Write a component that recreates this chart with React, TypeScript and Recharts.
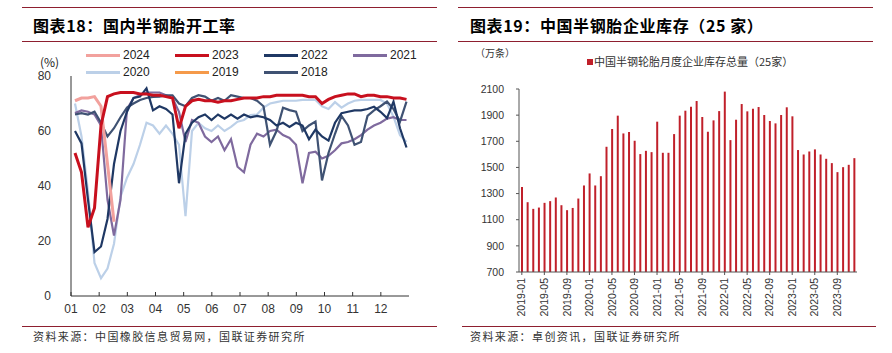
import React from 'react';
import { LineChart, Line, XAxis, YAxis, BarChart, Bar } from 'recharts';

// ---------- Left chart: 国内半钢胎开工率 (weekly, %) ----------
const monthTicks = ['01', '02', '03', '04', '05', '06', '07', '08', '09', '10', '11', '12'];
const yTicksLeft = [0, 20, 40, 60, 80];
const FIRST_WEEK_MONTH = 0.142;
const WEEKS_PER_YEAR = 52;

const s2024 = [71, 72, 72, 72.5, 69, 48, 27];
const s2023 = [
  52, 45, 25, 32, 62, 72.5, 73.5, 74, 74, 74,
  73.5, 73.5, 73, 73, 72.5, 72, 61, 69, 71, 71.5,
  71, 71, 70.5, 71, 71, 71.5, 72, 72, 72, 72.5,
  72.5, 73, 73, 73, 73, 73, 72.5, 72.5, 70, 71.5,
  72.5, 73, 73.5, 73.5, 72.5, 73, 73, 72.5, 72.5, 72,
  72, 71.5,
];
const s2022 = [
  60, 55.5, 35, 16, 18, 28, 48, 60, 67, 72,
  72.5, 75.5, 67.5, 69, 68, 66, 41, 59, 63, 65,
  66, 64, 66, 64.5, 66, 64.5, 66, 65, 65.5, 65,
  64, 62, 63, 61.5, 63, 62, 57, 60.5, 58, 56.5,
  63, 66.5, 67, 67.5, 67.5, 68, 68.8, 67, 64.7, 70.7,
  61, 54,
];
const s2021 = [
  66.5, 67.5, 67, 66, 62, 35, 22, 35, 68, 72,
  73, 74, 74, 74, 73, 72, 67, 56, 64, 63,
  58, 56, 58, 53, 57, 47, 45, 55, 59, 58,
  60, 60.5, 58.5, 57.5, 55, 41, 52, 52.5, 50, 51,
  53, 55.5, 56, 57, 58.5, 60.5, 62, 63, 64.5, 65,
  64, 64,
];
const s2020 = [
  70, 58, 38, 12, 6.5, 10, 19, 36, 43, 48,
  55, 63, 62, 59, 62, 59, 55, 29, 60, 63,
  61, 60, 62, 60, 61.5, 63.4, 64, 65.8, 66, 68.5,
  70, 70.5, 71, 71, 71, 71.3, 71.3, 71.3, 69, 68,
  70.5, 68.5, 70, 71, 71.3, 71.3, 71.3, 71.3, 70, 65.2,
  58.5, 56,
];
const s2019: number[] = [];
const s2018 = [
  66, 66.5, 66, 67, 63, 58, 61, 65, 68.5, 70,
  71.3, 72, 72.4, 72.5, 73, 73, 70, 69, 72, 73,
  72.5, 71, 72, 71, 73, 72.5, 72, 72, 71, 69,
  55, 60, 68.5, 67.6, 67, 60, 62, 63.4, 42, 52,
  59, 65.5, 62, 55, 56, 65.5, 67.5, 69, 70.7, 68,
  63.4, 70.7,
];

const leftSeries = [
  { key: 'y2024', name: '2024', color: '#F2A19D', width: 3, values: s2024 },
  { key: 'y2023', name: '2023', color: '#C8101E', width: 3, values: s2023 },
  { key: 'y2022', name: '2022', color: '#1F3864', width: 2.2, values: s2022 },
  { key: 'y2021', name: '2021', color: '#7F6A9E', width: 2.2, values: s2021 },
  { key: 'y2020', name: '2020', color: '#BCD0E8', width: 2.2, values: s2020 },
  { key: 'y2019', name: '2019', color: '#F59A4A', width: 2.2, values: s2019 },
  { key: 'y2018', name: '2018', color: '#3F5273', width: 2.2, values: s2018 },
];
const drawOrder = ['y2020', 'y2019', 'y2021', 'y2018', 'y2022', 'y2024', 'y2023'];

const leftData = Array.from({ length: WEEKS_PER_YEAR }, (_, i) => {
  const row: Record<string, number | null> = { x: FIRST_WEEK_MONTH + (i * 12) / WEEKS_PER_YEAR };
  leftSeries.forEach((s) => {
    row[s.key] = i < s.values.length ? s.values[i] : null;
  });
  return row;
});

// ---------- Right chart: 中国半钢胎企业库存 (monthly, 万条) ----------
const inventoryMonths = [
  '2019-01', '2019-02', '2019-03', '2019-04', '2019-05', '2019-06', '2019-07', '2019-08', '2019-09', '2019-10', '2019-11', '2019-12',
  '2020-01', '2020-02', '2020-03', '2020-04', '2020-05', '2020-06', '2020-07', '2020-08', '2020-09', '2020-10', '2020-11', '2020-12',
  '2021-01', '2021-02', '2021-03', '2021-04', '2021-05', '2021-06', '2021-07', '2021-08', '2021-09', '2021-10', '2021-11', '2021-12',
  '2022-01', '2022-02', '2022-03', '2022-04', '2022-05', '2022-06', '2022-07', '2022-08', '2022-09', '2022-10', '2022-11', '2022-12',
  '2023-01', '2023-02', '2023-03', '2023-04', '2023-05', '2023-06', '2023-07', '2023-08', '2023-09', '2023-10', '2023-11', '2023-12',
];
const inventoryValues = [
  1350, 1234, 1183, 1193, 1229, 1242, 1270, 1211, 1173, 1190, 1262, 1362,
  1454, 1362, 1433, 1658, 1794, 1896, 1760, 1771, 1704, 1602, 1627, 1617,
  1850, 1612, 1612, 1755, 1896, 1934, 1965, 2008, 1886, 1773, 1860, 1931,
  2080, 1709, 1865, 1985, 1929, 1949, 1962, 1901, 1855, 1837, 1901, 1960,
  1891, 1633, 1599, 1622, 1638, 1599, 1566, 1533, 1464, 1502, 1520, 1571,
];
const yTicksRight = [700, 900, 1100, 1300, 1500, 1700, 1900, 2100];
const inventoryName = '中国半钢轮胎月度企业库存总量（25家）';

const rightData = inventoryMonths.map((m, i) => ({ month: m, value: inventoryValues[i] }));

const RULE = '#8E1F2F';
const LATIN = '"Liberation Sans", Arial, sans-serif';
const CJK = '"Noto Sans CJK SC", "Liberation Sans", sans-serif';

const RotatedTick = (props: any) => {
  const { x, y, payload } = props;
  return (
    <text
      x={x}
      y={y}
      transform={`rotate(-90, ${x}, ${y})`}
      textAnchor="end"
      dy="0.35em"
      fontSize={10.5}
      fontFamily={LATIN}
      fill="#333"
    >
      {payload.value}
    </text>
  );
};

const Rule = ({ x, y, w }: { x: number; y: number; w: number }) => (
  <div style={{ position: 'absolute', left: x, top: y, width: w, height: 1, background: RULE }} />
);

const Txt = ({ x, y, size, children, bold, family, spacing, color }: any) => (
  <div
    style={{
      position: 'absolute',
      left: x,
      top: y,
      fontSize: size,
      fontWeight: bold ? 700 : 400,
      fontFamily: family || CJK,
      letterSpacing: spacing || 0,
      color: color || '#000',
      whiteSpace: 'nowrap',
      lineHeight: 1,
    }}
  >
    {children}
  </div>
);

export default function App() {
  const legendCols = [86, 175, 264, 353];
  const legendRows = [55, 72];
  return (
    <div
      style={{
        position: 'absolute',
        left: 0,
        top: 0,
        width: 892,
        height: 353,
        background: '#fff',
        overflow: 'hidden',
        fontFamily: LATIN,
      }}
    >
      {/* Left panel frame */}
      <Rule x={22} y={7} w={415} />
      <Txt x={33} y={17} size={16} bold spacing={0.6}>图表18：国内半钢胎开工率</Txt>
      <Rule x={22} y={41} w={415} />
      <Txt x={40} y={56} size={12} family={CJK} color="#222">(%)</Txt>

      {leftSeries.map((s, idx) => {
        const cx = legendCols[idx % 4];
        const cy = legendRows[Math.floor(idx / 4)];
        return (
          <div key={s.key} style={{ position: 'absolute', left: cx, top: cy - 8, height: 16, display: 'flex', alignItems: 'center' }}>
            <div style={{ width: 34, height: 3, background: s.color }} />
            <span style={{ marginLeft: 3, fontSize: 12, fontFamily: LATIN, color: '#222' }}>{s.name}</span>
          </div>
        );
      })}

      <div style={{ position: 'absolute', left: 0, top: 0 }}>
        <LineChart width={440} height={353} data={leftData} margin={{ top: 76, right: 31, bottom: 27, left: 0 }}>
          <XAxis
            dataKey="x"
            type="number"
            domain={[0, 12]}
            ticks={monthTicks.map((_, i) => i)}
            tickFormatter={(v: number) => monthTicks[v]}
            allowDataOverflow
            height={30}
            stroke="#333"
            tickSize={-4}
            tickMargin={12}
            tick={{ fontSize: 12, fill: '#333', fontFamily: LATIN }}
          />
          <YAxis
            domain={[0, 80]}
            ticks={yTicksLeft}
            width={71}
            stroke="#333"
            tickSize={0}
            tickMargin={20}
            tick={{ fontSize: 12, fill: '#333', fontFamily: LATIN }}
          />
          {drawOrder.map((k) => {
            const s = leftSeries.find((t) => t.key === k)!;
            return (
              <Line
                key={k}
                dataKey={k}
                name={s.name}
                stroke={s.color}
                strokeWidth={s.width}
                dot={false}
                type="linear"
                isAnimationActive={false}
                connectNulls={false}
              />
            );
          })}
        </LineChart>
      </div>

      <Rule x={22} y={326} w={415} />
      <Txt x={33} y={331} size={11} spacing={1.4} color="#333">资料来源：中国橡胶信息贸易网，国联证券研究所</Txt>

      {/* Right panel frame */}
      <Rule x={458} y={7} w={415} />
      <Txt x={470} y={17} size={16} bold spacing={0.6}>图表19：中国半钢胎企业库存（25 家）</Txt>
      <Rule x={458} y={41} w={415} />
      <Txt x={475} y={48} size={10} color="#333">（万条）</Txt>
      <div style={{ position: 'absolute', left: 587, top: 59, width: 6, height: 6, background: '#C0202A' }} />
      <Txt x={594} y={56} size={11} color="#333">{inventoryName}</Txt>

      <div style={{ position: 'absolute', left: 450, top: 0 }}>
        <BarChart width={442} height={353} data={rightData} margin={{ top: 89, right: 35, bottom: 31, left: 0 }} barCategoryGap={0}>
          <XAxis
            dataKey="month"
            interval={3}
            height={50}
            stroke="#555"
            tickSize={3}
            tickMargin={3}
            tick={<RotatedTick />}
          />
          <YAxis
            domain={[700, 2100]}
            ticks={yTicksRight}
            width={69}
            stroke="#555"
            tickSize={3}
            tickMargin={12}
            allowDataOverflow
            tick={{ fontSize: 10.5, fill: '#333', fontFamily: LATIN }}
          />
          <Bar dataKey="value" name={inventoryName} fill="#C0202A" barSize={2} isAnimationActive={false} />
        </BarChart>
      </div>

      <Rule x={462} y={326} w={414} />
      <Txt x={470} y={331} size={11} spacing={1.4} color="#333">资料来源：卓创资讯，国联证券研究所</Txt>
    </div>
  );
}
